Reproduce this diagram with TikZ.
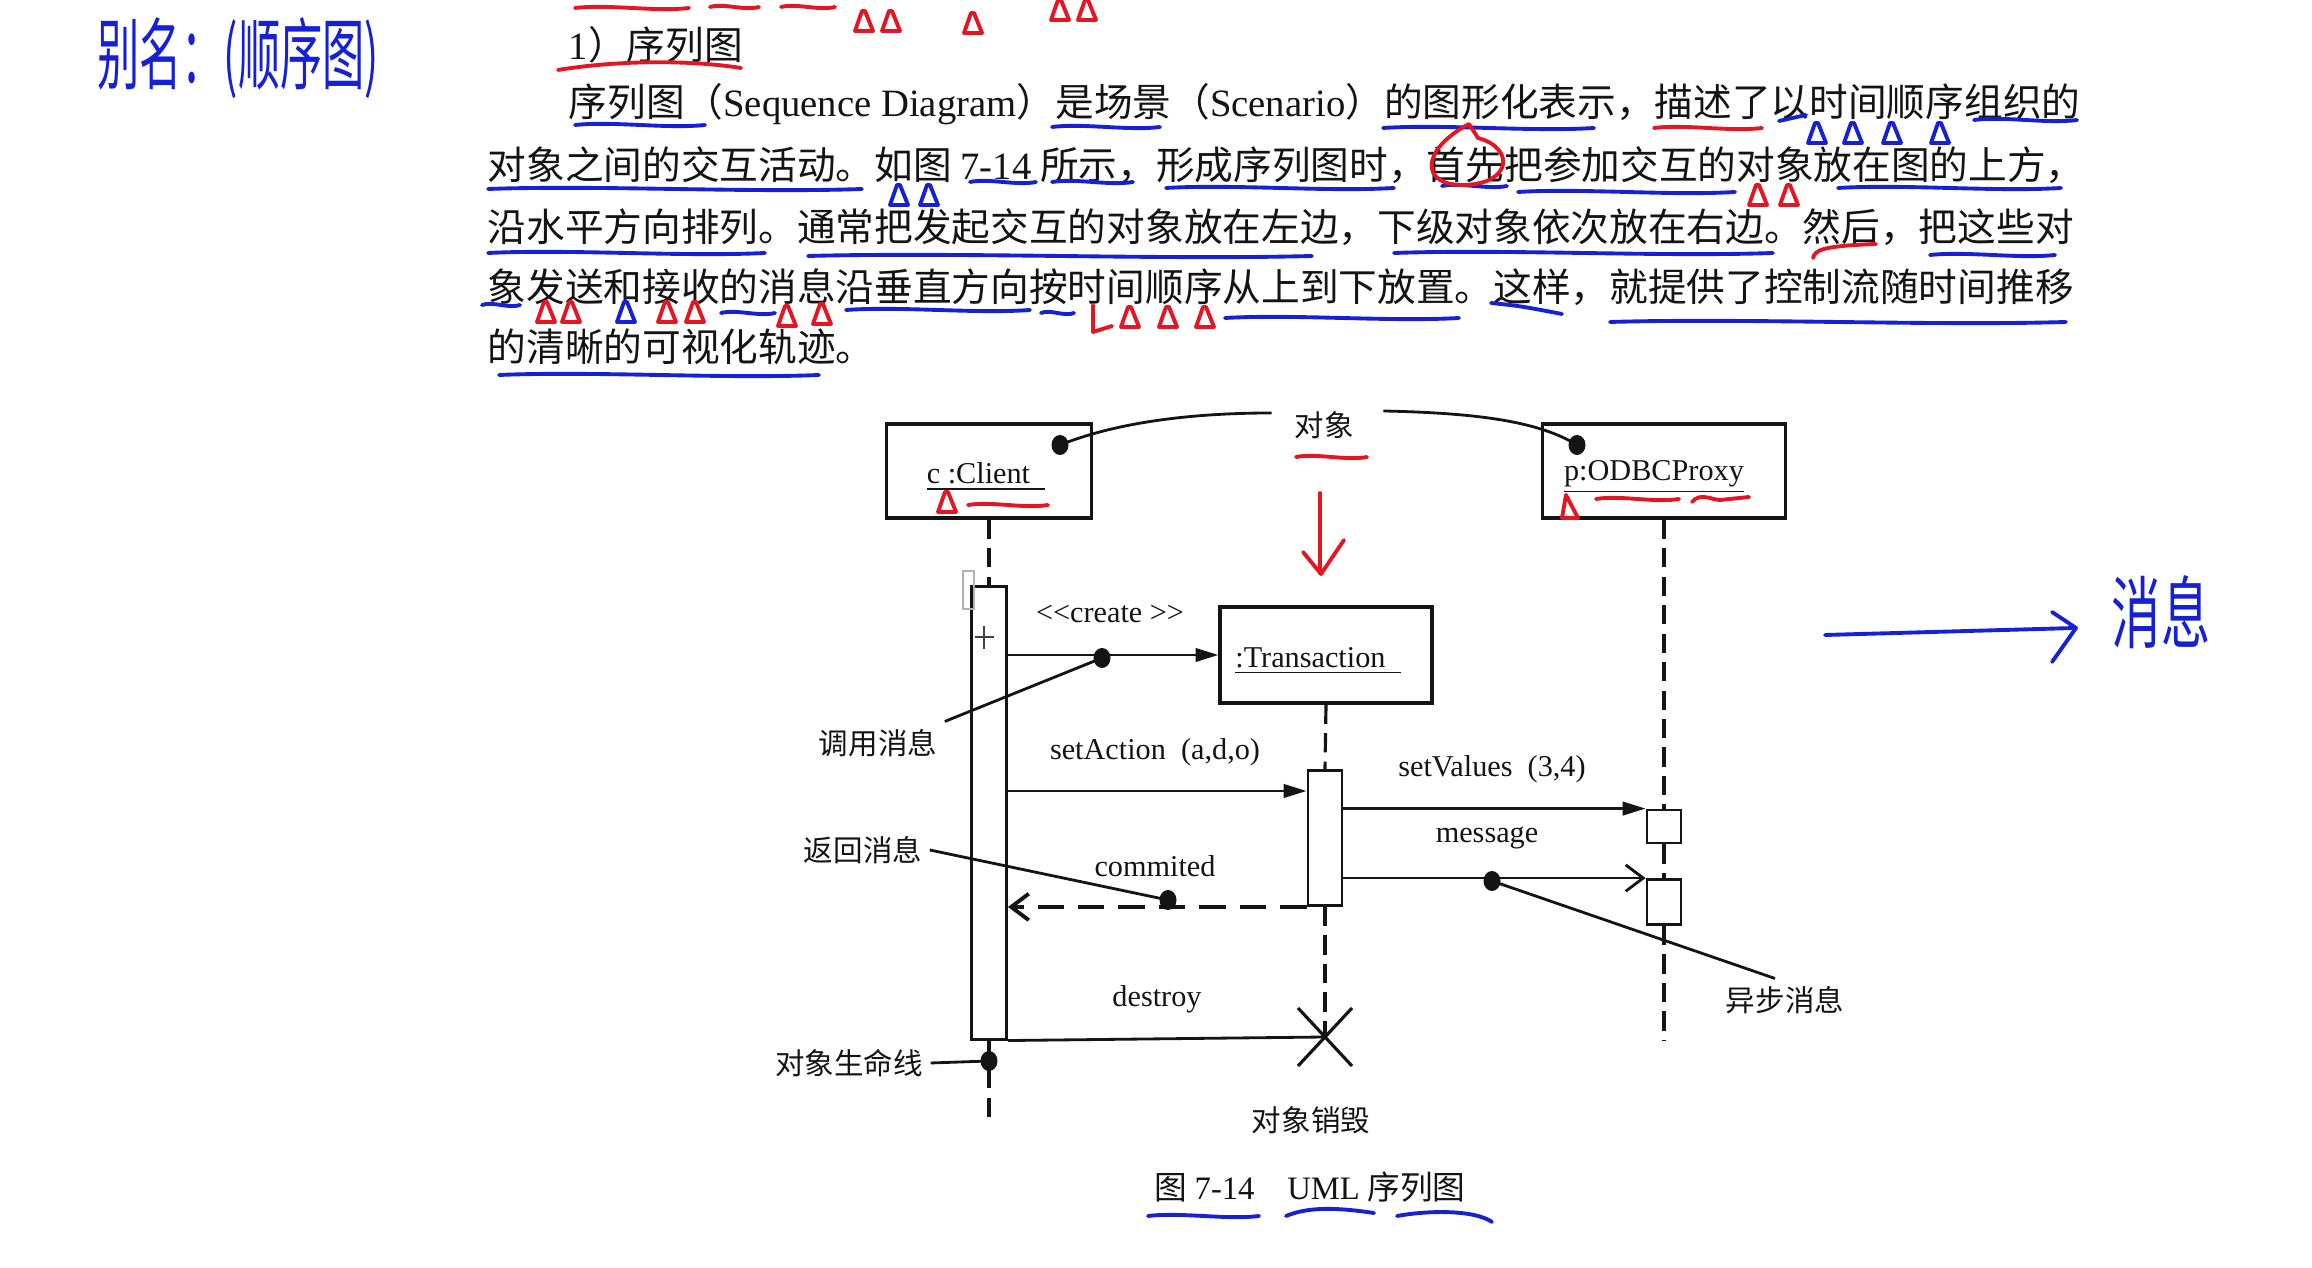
\documentclass[tikz,border=0pt]{standalone}
\usepackage{fontspec}
\setmainfont{Liberation Serif}
\newfontfamily\cjk{Noto Sans CJK SC}
\usetikzlibrary{arrows.meta,shapes.geometric}
\definecolor{pblue}{RGB}{22,32,212}
\definecolor{pred}{RGB}{228,22,34}
\definecolor{ink}{RGB}{20,20,20}
\newcommand\myul[4]{\draw[pen,#1] (#2,#4) .. controls ({#2+(#3-#2)*0.3},{#4-4}) and ({#2+(#3-#2)*0.7},{#4+4}) .. (#3,#4);}
\tikzset{hdtri/.pic={\draw[pen] (-9,9) -- (-2,-11) -- (1,-11) -- (9,9) -- cycle;}}
\begin{document}
\begin{tikzpicture}[x=0.01cm,y=-0.01cm,
  bodytext/.style={anchor=west, inner sep=0, text=ink, font=\fontsize{11pt}{13pt}\cjk},
  lbl/.style={inner sep=2pt, text=ink, font=\fontsize{8.4pt}{10pt}\cjk},
  latinlbl/.style={inner sep=1pt, text=ink, font=\fontsize{8.6pt}{10pt}\rmfamily},
  captionlbl/.style={inner sep=1pt, text=ink, font=\fontsize{9.3pt}{11pt}\cjk},
  objbox/.style={draw=ink, line width=0.9pt, fill=white, inner sep=0},
  actbox/.style={draw=ink, line width=0.8pt, fill=white, inner sep=0},
  life/.style={draw=ink, line width=0.9pt, dash pattern=on 5.5pt off 2.6pt},
  msg/.style={draw=ink, line width=0.8pt},
  retmsg/.style={draw=ink, line width=1.1pt, dash pattern=on 7.5pt off 4pt},
  syncarrow/.style={-{Triangle[length=6.5pt,width=3.8pt]}},
  asyncarrow/.style={-{Straight Barb[length=5pt,width=7.5pt]}},
  callout/.style={draw=ink, line width=0.8pt},
  dotnode/.style={ellipse, fill=ink, inner sep=0, minimum width=0.17cm, minimum height=0.2cm},
  pen/.style={line width=1.1pt, line cap=round, line join=round}
]
\fill[white] (0,0) rectangle (2312,1268);
\useasboundingbox (0,0) rectangle (2312,1268);

% ---------- body text ----------
\node[bodytext] (head) at (568,45) {{\rmfamily 1}）序列图};
\node[bodytext] (line1) at (568,104) {序列图（{\rmfamily Sequence Diagram}）是场景（{\rmfamily Scenario}）的图形化表示，描述了以时间顺序组织的};
\node[bodytext] (line2) at (487,165) {对象之间的交互活动。如图 {\rmfamily 7-14} 所示，形成序列图时，首先把参加交互的对象放在图的上方，};
\node[bodytext] (line3) at (487,227) {沿水平方向排列。通常把发起交互的对象放在左边，下级对象依次放在右边。然后，把这些对};
\node[bodytext] (line4) at (487,287) {象发送和接收的消息沿垂直方向按时间顺序从上到下放置。这样，就提供了控制流随时间推移};
\node[bodytext] (line5) at (487,347) {的清晰的可视化轨迹。};

% ---------- diagram boxes ----------
\node[objbox, minimum width=2.05cm, minimum height=0.94cm] (client) at (989,471) {};
\node[latinlbl] (clientname) at (986,477) {\underline{c :Client\ \ }};
\node[objbox, minimum width=2.43cm, minimum height=0.94cm] (proxy) at (1664,471) {};
\node[latinlbl] (proxyname) at (1654,477) {\underline{p:ODBCProxy}};
\node[objbox, minimum width=2.12cm, minimum height=0.96cm] (trans) at (1326,655) {};
\node[latinlbl] (transname) at (1318,661) {\underline{:Transaction\ \ }};
\node[actbox, minimum width=0.35cm, minimum height=4.52cm] (cact) at (989,813) {};
\node[actbox, minimum width=0.34cm, minimum height=1.35cm] (tact) at (1325,838) {};
\node[actbox, minimum width=0.34cm, minimum height=0.33cm] (pact1) at (1664,826.5) {};
\node[actbox, minimum width=0.34cm, minimum height=0.45cm] (pact2) at (1664,902) {};

% artefacts near client activation
\draw[gray!60, line width=0.5pt] (963,571) rectangle (974,609);
\draw[ink!80, line width=0.5pt] (984,626) -- (984,649) (975,637) -- (994,637);

% ---------- lifelines ----------
\coordinate (clientend) at (989,1121);
\coordinate (proxyend) at (1664,1040);
\coordinate (xmark) at (1325,1037);
\draw[life] (client.south) -- (cact.north);
\draw[life] (cact.south) -- (clientend);
\draw[life] (trans.south) -- (tact.north);
\draw[life] (tact.south) -- (xmark);
\draw[life] (proxy.south) -- (pact1.north);
\draw[life] (pact1.south) -- (pact2.north);
\draw[life] (pact2.south) -- (proxyend);

% ---------- messages ----------
\draw[msg,syncarrow] (cact.east |- trans.west) -- (trans.west);
\draw[msg,syncarrow] (cact.east |- 0,791) -- (tact.west |- 0,791);
\draw[msg,syncarrow] (tact.east |- pact1.north) -- (pact1.north west);
\draw[msg,asyncarrow] (tact.east |- pact2.north) -- (pact2.north west);
\draw[retmsg,asyncarrow] (tact.south west) -- (cact.east |- tact.south west);
\draw[msg] (cact.south east) -- (xmark);
\draw[ink, line width=0.9pt] ([shift={(-27,-29)}]xmark) -- ([shift={(27,29)}]xmark);
\draw[ink, line width=0.9pt] ([shift={(27,-29)}]xmark) -- ([shift={(-27,29)}]xmark);

% ---------- message labels ----------
\node[latinlbl] (createlbl) at (1110,614) {<{}<create >{}>};
\node[latinlbl] (setactionlbl) at (1155,752) {setAction\ \ (a,d,o)};
\node[latinlbl] (setvalueslbl) at (1492,769) {setValues\ \ (3,4)};
\node[latinlbl] (messagelbl) at (1487,838) {message};
\node[latinlbl] (commitedlbl) at (1155,866) {commited};
\node[latinlbl] (destroylbl) at (1157,999) {destroy};

% ---------- callout labels ----------
\node[lbl] (objlbl) at (1324,425) {对象};
\node[lbl] (calllbl) at (878,743) {调用消息};
\node[lbl] (retlbl) at (863,850) {返回消息};
\node[lbl] (asynclbl) at (1785,1000) {异步消息};
\node[lbl] (lifelbl) at (849,1063) {对象生命线};
\node[lbl] (destlbl) at (1311,1120) {对象销毁};
\node[captionlbl] (cap) at (1310,1187) {图 {\rmfamily 7-14}\quad{\rmfamily UML} 序列图};

% ---------- dots and callouts ----------
\node[dotnode] (dobjl) at (1060,445) {};
\node[dotnode] (dobjr) at (1577,445) {};
\node[dotnode] (dcall) at (1102,658) {};
\node[dotnode] (dret) at (1168,900) {};
\node[dotnode] (dasync) at (1492,881) {};
\node[dotnode] (dlife) at (989,1061) {};
\draw[callout] ([xshift=-0.15cm,yshift=0.12cm]objlbl.west) .. controls (1180,413) and (1110,425) .. (dobjl.center);
\draw[callout] ([xshift=0.22cm,yshift=0.14cm]objlbl.east) .. controls (1480,413) and (1540,422) .. (dobjr.center);
\draw[callout] (calllbl.north east) -- (dcall.center);
\draw[callout] (retlbl.east) -- (dret.center);
\draw[callout] ([xshift=-0.1cm]asynclbl.north) -- (dasync.center);
\draw[callout] (lifelbl.east) -- (dlife.center);

% ---------- handwritten annotations (blue) ----------
\node[text=pblue, font=\fontsize{12pt}{12pt}\cjk] (alias) at (238,58) {\scalebox{1}[1.85]{别名：(顺序图)}};
\node[text=pblue, font=\fontsize{14pt}{14pt}\cjk] (msgnote) at (2161,612) {\scalebox{1}[1.6]{消息}};
\coordinate (penarrowstart) at (1825,635);
\draw[pen,pblue] (penarrowstart) -- (2075,628);
\draw[pen,pblue] (2052,612) -- (2076,628) -- (2052,662);

\myul{pblue}{575}{705}{125}
\myul{pblue}{1052}{1160}{127}
\myul{pblue}{1383}{1594}{128}
\draw[pen,pblue] (1779,121) -- (1806,115);
\myul{pblue}{1974}{2077}{120}
\foreach \tx in {1817,1853,1892,1940} \pic[pblue] at (\tx,134) {hdtri};

\myul{pblue}{488}{862}{189}
\myul{pblue}{970}{1036}{182}
\foreach \tx in {899,929} \pic[pblue] at (\tx,196) {hdtri};
\myul{pblue}{1052}{1133}{182}
\myul{pblue}{1166}{1394}{188}
\myul{pblue}{1442}{1507}{186}
\myul{pblue}{1518}{1735}{192}
\myul{pblue}{1838}{2061}{188}

\myul{pblue}{488}{765}{253}
\myul{pblue}{808}{1312}{256}
\myul{pblue}{1394}{1773}{253}
\myul{pblue}{1930}{2055}{255}

\myul{pblue}{482}{520}{305}
\pic[pblue] at (626,313) {hdtri};
\myul{pblue}{721}{775}{313}
\myul{pblue}{846}{1030}{310}
\myul{pblue}{1041}{1074}{313}
\myul{pblue}{1225}{1459}{318}
\draw[pen,pblue] (1491,303) .. controls (1520,306) .. (1562,314);
\myul{pblue}{1610}{2066}{322}
\myul{pblue}{499}{819}{375}

\myul{pblue}{1148}{1259}{1216}
\draw[pen,pblue] (1286,1216) .. controls (1310,1206) and (1340,1208) .. (1374,1213);
\draw[pen,pblue] (1397,1216) .. controls (1430,1210) and (1475,1210) .. (1492,1222);

% ---------- handwritten annotations (red) ----------
\myul{pred}{575}{689}{8}
\myul{pred}{710}{759}{7}
\myul{pred}{781}{835}{7}
\foreach \tx/\ty in {864/22,891/22,973/24,1060/11,1087/11} \pic[pred] at (\tx,\ty) {hdtri};
\draw[pen,pred] (558,70) .. controls (620,60) and (690,60) .. (741,68);
\myul{pred}{1654}{1762}{128}
\draw[pen,pred] (1469,124) .. controls (1420,150) and (1420,186) .. (1464,185) .. controls (1512,184) and (1515,148) .. (1478,138) -- (1469,124);
\foreach \tx in {1758,1789} \pic[pred] at (\tx,196) {hdtri};
\draw[pen,pred] (1813,258) .. controls (1815,250) and (1822,246) .. (1876,244);
\foreach \tx/\ty in {546/313,571/313,667/313,695/313,787/317,822/315} \pic[pred] at (\tx,\ty) {hdtri};
\draw[pen,pred] (1093,305) -- (1093,332) -- (1112,326);
\foreach \tx in {1130,1168,1205} \pic[pred] at (\tx,318) {hdtri};

\myul{pred}{1296}{1367}{457}
\draw[pen,pred] (1320,493) -- (1320,573);
\draw[pen,pred] (1303,552) -- (1321,574) -- (1344,540);
\pic[pred] at (947,503) {hdtri};
\myul{pred}{968}{1048}{505}
\draw[pen,pred] (1562,518) -- (1566,495) -- (1578,518) -- cycle;
\myul{pred}{1596}{1679}{499}
\draw[pen,pred] (1692,502) .. controls (1700,492) and (1712,500) .. (1720,500) -- (1749,497);
\end{tikzpicture}
\end{document}
